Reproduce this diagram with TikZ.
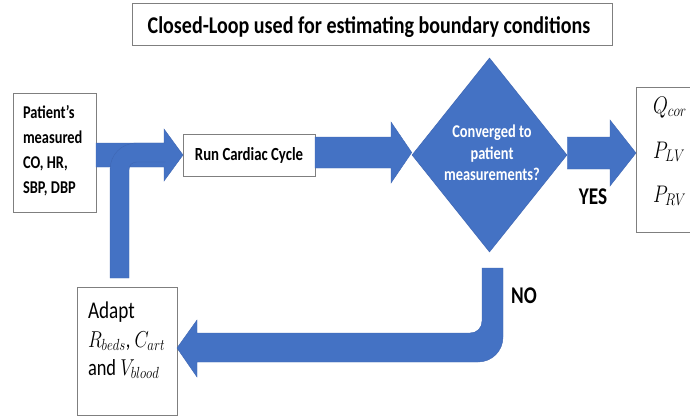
\RequirePackage{fix-cm}
\documentclass[tikz,border=0pt]{standalone}
\usepackage{fontspec}
\setmainfont{Carlito}
\usepackage{graphicx}
\usetikzlibrary{shapes.geometric}
\definecolor{fblue}{HTML}{4472C4}
\definecolor{fedge}{HTML}{3E66B3}
\definecolor{boxline}{HTML}{7F7F7F}
% narrow text, as set in the figure
\newcommand{\nar}[1]{\scalebox{0.8}[1]{#1}}
\begin{document}
\begin{tikzpicture}[x=1pt,y=-1pt,
  box/.style={draw=boxline,line width=0.8pt,fill=white,inner sep=0,outer sep=0,anchor=north west},
  lbl/.style={inner sep=0,outer sep=0,anchor=base west},
  clbl/.style={inner sep=0,outer sep=0,anchor=base},
  bfnt/.style={font=\fontsize{18}{21}\selectfont\bfseries},
  blk/.style={fill=fblue},
  blkedge/.style={draw=fedge,line width=0.4pt,line join=miter},
]
\useasboundingbox (0,0) rectangle (690,418);
\fill[white] (0,0) rectangle (690,418);

% boxes
\node[box,minimum width=480pt,minimum height=42pt] (title) at (132,3) {};
\node[box,minimum width=83pt,minimum height=119pt] (patient) at (13,93) {};
\node[box,minimum width=132pt,minimum height=42pt] (run) at (183,134) {};
\node[box,minimum width=80pt,minimum height=145pt] (out) at (636,87) {};
\node[box,minimum width=100pt,minimum height=128pt] (adapt) at (77,287) {};
\node[diamond,fill=fblue,draw=fedge,line width=0.5pt,inner sep=0,
      minimum width=155pt,minimum height=194pt] (conv) at (489.5,155) {};

% patient data -> run cardiac cycle
\path[blk,blkedge] (patient.east |- 0,143) -- (164,143) -- (164,129)
  -- (run.west |- 0,155) -- (164,181) -- (164,167) -- (patient.east |- 0,167) -- cycle;

% adapted parameters fed back into the cycle
\fill[fblue] (110,278) -- (110,170) .. controls (110,155) and (121,143) .. (137,143)
  -- (165,143) -- (165,162) -- (137,162) .. controls (132,162) and (129,165) .. (129,170)
  -- (129,278) -- cycle;
\draw[blkedge] (165,143) -- (137,143) .. controls (121,143) and (110,155) .. (110,170)
  -- (110,278) -- (129,278) -- (129,170) .. controls (129,165) and (132,162) .. (137,162)
  -- (165,162);

% run cardiac cycle -> convergence test
\path[blk,blkedge] (run.east |- 0,137) -- (391,137) -- (391,122)
  -- (conv.west |- 0,152.5) -- (391,183) -- (391,168) -- (run.east |- 0,168) -- cycle;

% YES branch
\path[blk,blkedge] (conv.east |- 0,137) -- (610,137) -- (610,120)
  -- (out.west |- 0,153) -- (610,186) -- (610,169) -- (conv.east |- 0,169) -- cycle;

% NO branch back to adaptation
\path[blk,blkedge] (482,268) -- (503,268) -- (503,337)
  .. controls (503,351) and (492,362) .. (478,362)
  -- (197,362) -- (197,377) -- (adapt.east |- 0,348) -- (197,320) -- (197,333)
  -- (470,333) .. controls (477,333) and (482,328) .. (482,321) -- cycle;

% texts
\node[clbl,font=\fontsize{24}{28}\selectfont\bfseries] (ttl) at (369,33)
  {\scalebox{0.835}[1]{Closed-Loop used for estimating boundary conditions}};

\node[lbl,bfnt] (p1) at (23,118) {\nar{Patient’s}};
\node[lbl,bfnt] (p2) at (23,143) {\nar{measured}};
\node[lbl,bfnt] (p3) at (23,168) {\nar{CO, HR,}};
\node[lbl,bfnt] (p4) at (23,193) {\nar{SBP, DBP}};

\node[clbl,font=\fontsize{18.5}{22}\selectfont\bfseries] (runtxt) at (249,160) {\nar{Run Cardiac Cycle}};

\node[clbl,bfnt,text=white] (c1) at (492,137) {\nar{Converged to}};
\node[clbl,bfnt,text=white] (c2) at (492,159) {\nar{patient}};
\node[clbl,bfnt,text=white] (c3) at (492,180) {\nar{measurements?}};

\node[clbl,font=\fontsize{24}{28}\selectfont\bfseries] (yes) at (593,204) {\nar{YES}};
\node[clbl,font=\fontsize{24}{28}\selectfont\bfseries] (no) at (524,303) {\nar{NO}};

\node[lbl,font=\fontsize{24}{28}\selectfont] (a1) at (88,318) {\nar{Adapt}};
\node[lbl,font=\fontsize{23}{27}\selectfont] (a2) at (88,347) {\nar{$R_{beds}$, $C_{art}$}};
\node[lbl,font=\fontsize{23}{27}\selectfont] (a3) at (88,375) {\nar{and $V_{blood}$}};

\node[lbl,font=\fontsize{24}{28}\selectfont] (o1) at (653,113) {\nar{$Q_{cor}$}};
\node[lbl,font=\fontsize{24}{28}\selectfont] (o2) at (653,158) {\nar{$P_{LV}$}};
\node[lbl,font=\fontsize{24}{28}\selectfont] (o3) at (653,202) {\nar{$P_{RV}$}};
\end{tikzpicture}
\end{document}
